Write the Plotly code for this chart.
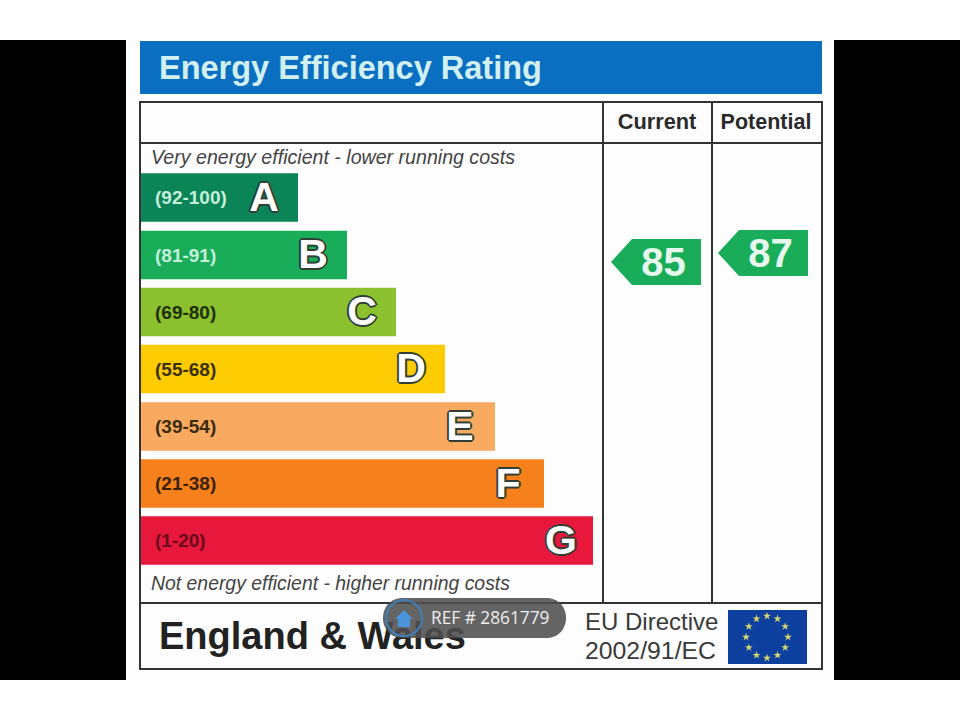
import math
import plotly.graph_objects as go

# Data
bands = ["A", "B", "C", "D", "E", "F", "G"]
ranges = ["(92-100)", "(81-91)", "(69-80)", "(55-68)", "(39-54)", "(21-38)", "(1-20)"]
bar_right = [298, 347, 396, 445, 495, 544, 593]
bar_centre = [197.5, 255, 312, 369, 426.5, 483.5, 540.5]
bar_colors = ["#0b8457", "#19ad5a", "#8bc02f", "#fdcb02", "#f9aa60", "#f6811c", "#e8173c"]
range_colors = ["#c4f0dc", "#c4f0dc", "#1e3008", "#3a3000", "#3a2a10", "#3a2206", "#6a0a1a"]
letter_x = [264, 313, 362, 411, 460, 508, 561]
title = "Energy Efficiency Rating"
col_heads = ["Current", "Potential"]
ratings = [85, 87]
rating_left = [611, 718]
rating_right = [701, 808]
rating_mid = [262, 253]
top_note = "Very energy efficient - lower running costs"
bottom_note = "Not energy efficient - higher running costs"
region = "England & Wales"
directive = ["EU Directive", "2002/91/EC"]
ref_text = "REF # 2861779"
SANS = "Liberation Sans"
INK = "#333333"

fig = go.Figure()

# Rating bars
fig.add_trace(go.Bar(
    y=bar_centre, x=[r - 141 for r in bar_right], base=141, width=48.5, orientation="h",
    marker=dict(color=bar_colors, line_width=0), hoverinfo="skip"))

# Rating pointers
for left, right, mid in zip(rating_left, rating_right, rating_mid):
    fig.add_trace(go.Scatter(
        x=[left, left + 21, right, right, left + 21, left],
        y=[mid, mid - 23, mid - 23, mid + 23, mid + 23, mid],
        mode="lines", fill="toself", fillcolor="#19ad5a", line=dict(width=0, color="#19ad5a"),
        hoverinfo="skip"))


def label(x, y, text, size, color, bold=False, italic=False, anchor="middle center", font=SANS, shadow=None):
    f = dict(family=font, size=size, color=color, weight="bold" if bold else "normal",
             style="italic" if italic else "normal")
    if shadow:
        f["shadow"] = shadow
    fig.add_trace(go.Scatter(x=[x], y=[y], mode="text", text=[text], textposition=anchor,
                             textfont=f, hoverinfo="skip"))


OUTLINE = ",".join(f"{dx}px {dy}px 0 #2f3f35" for dx, dy in
                   [(-2, 0), (2, 0), (0, -2), (0, 2), (-1, -1), (1, -1), (-1, 1), (1, 1)])

label(159, 71, title, 32.5, "#d2f0f2", bold=True, anchor="middle right")
label(657, 124, col_heads[0], 21.8, "#2a2a2a", bold=True)
label(766, 124, col_heads[1], 21.5, "#2a2a2a", bold=True)
label(151, 159, top_note, 19.6, "#444444", italic=True, anchor="middle right")
label(151, 585, bottom_note, 19.4, "#444444", italic=True, anchor="middle right")

for rng, c, y, lx, letter in zip(ranges, range_colors, bar_centre, letter_x, bands):
    label(155, y + 2, rng, 19, c, bold=True, anchor="middle right")
    label(lx, y + 3, letter, 41, "white", bold=True, shadow=OUTLINE)

for r, left, right, mid in zip(ratings, rating_left, rating_right, rating_mid):
    label((left + 21 + right) / 2 - 3, mid + 4, str(r), 40, "#e6f8ee", bold=True)

label(159, 639, region, 38, "#222222", bold=True, anchor="middle right")
label(585, 624, directive[0], 24, "#3a3a3a", anchor="middle right")
label(585, 653, directive[1], 24.8, "#3a3a3a", anchor="middle right")

# EU flag stars
n_stars = 12
fig.add_trace(go.Scatter(
    x=[767 + 21 * math.sin(2 * math.pi * i / n_stars) for i in range(n_stars)],
    y=[637 - 21 * math.cos(2 * math.pi * i / n_stars) for i in range(n_stars)],
    mode="markers", marker=dict(symbol="star", size=6, color="#d8d870", line_width=0),
    hoverinfo="skip"))

line = dict(color=INK, width=2)
shapes = [
    dict(type="rect", x0=126, x1=834, y0=40, y1=680, fillcolor="#fdfdfd", line_width=0, layer="below"),
    dict(type="rect", x0=0, x1=126, y0=40, y1=680, fillcolor="black", line_width=0, layer="below"),
    dict(type="rect", x0=834, x1=960, y0=40, y1=680, fillcolor="black", line_width=0, layer="below"),
    dict(type="rect", x0=140, x1=822, y0=41, y1=94, fillcolor="#0a6fc0", line_width=0, layer="below"),
    dict(type="rect", x0=728, x1=807, y0=610, y1=664, fillcolor="#0c3f9e", line_width=0, layer="below"),
    dict(type="rect", x0=140, x1=822, y0=102, y1=669, line=line, layer="below"),
    dict(type="line", x0=140, x1=822, y0=143, y1=143, line=line, layer="below"),
    dict(type="line", x0=140, x1=822, y0=603, y1=603, line=line, layer="below"),
    dict(type="line", x0=603, x1=603, y0=102, y1=603, line=line, layer="below"),
    dict(type="line", x0=712, x1=712, y0=102, y1=603, line=line, layer="below"),
    # Reference pill
    dict(type="path", layer="above", line_width=0, fillcolor="rgba(78,78,78,0.88)",
         path="M 403 598 L 546 598 C 572.7 598 572.7 638 546 638 L 403 638 C 376.3 638 376.3 598 403 598 Z"),
    dict(type="circle", layer="above", x0=386, x1=422, y0=600, y1=636, fillcolor="rgba(0,0,0,0)",
         line=dict(color="#3f7fb8", width=2)),
    dict(type="path", layer="above", line_width=0, fillcolor="#4a94dc",
         path="M 404 610 L 413 619 L 410 619 L 410 627 L 398 627 L 398 619 L 395 619 Z"),
]

fig.update_layout(
    width=960, height=720, margin=dict(l=0, r=0, t=0, b=0),
    paper_bgcolor="white", plot_bgcolor="white", showlegend=False, shapes=shapes, barmode="overlay",
    xaxis=dict(range=[0, 960], visible=False, fixedrange=True),
    yaxis=dict(range=[720, 0], visible=False, fixedrange=True),
    annotations=[dict(x=429, y=617.5, xref="x", yref="y", text=ref_text, showarrow=False, xanchor="left",
                      font=dict(family="Open Sans", size=17.3, color="#eeeeee"))],
)
fig.write_html("out.html", post_script="document.body.style.margin='0';document.body.style.overflow='hidden';",
               config={"displayModeBar": False})
